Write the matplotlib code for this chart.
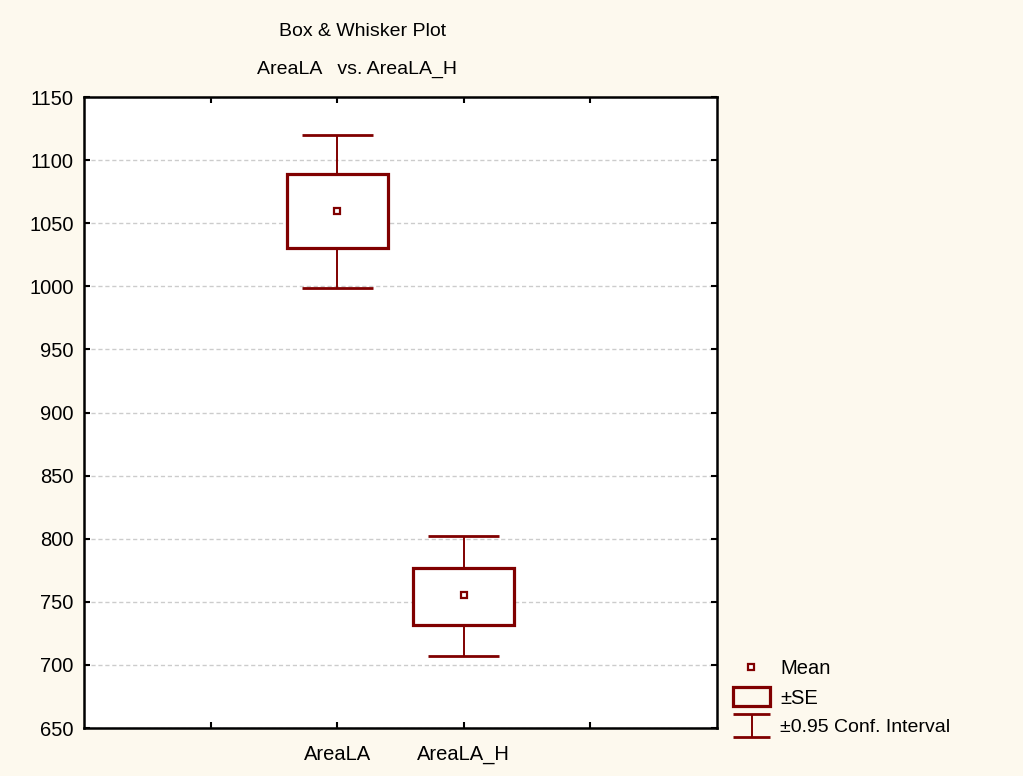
import numpy as np
from matplotlib import pyplot as plt

categories = ["AreaLA", "AreaLA_H"]
means = [1060, 755]
se_low = [1030, 732]
se_high = [1089, 777]
ci_low = [999, 707]
ci_high = [1120, 802]

xpos = [2, 3]
tick_pos = [1, 2, 3, 4]
tick_labels = ["", "AreaLA", "AreaLA_H", ""]

dark_red = "#800000"
bg = "#fdf9ee"
fs = 14.5

plt.rcParams['font.family'] = ['Liberation Sans', 'DejaVu Sans']

fig = plt.figure(figsize=(10.23, 7.76), dpi=100, facecolor=bg)
ax = fig.add_axes([84 / 1023, 48 / 776, 633 / 1023, 631 / 776])
ax.set_facecolor("white")

# grid
ax.set_axisbelow(True)
ax.yaxis.grid(True, color="#cccccc", linestyle=(0, (3, 2)), linewidth=1)

# +-SE boxes
se_h = [hi - lo for hi, lo in zip(se_high, se_low)]
ax.bar(xpos, se_h, bottom=se_low, width=0.8, facecolor="white",
       edgecolor=dark_red, linewidth=2.3, zorder=3)

# 0.95 CI whiskers + caps
ax.vlines(xpos, ci_low, se_low, color=dark_red, linewidth=1.4, zorder=2)
ax.vlines(xpos, se_high, ci_high, color=dark_red, linewidth=1.4, zorder=2)
cap = 0.28
for x, lo, hi in zip(xpos, ci_low, ci_high):
    ax.hlines([lo, hi], x - cap, x + cap, color=dark_red, linewidth=2, zorder=2)

# means
ax.plot(xpos, means, linestyle="none", marker="s", markersize=5,
        markerfacecolor="white", markeredgecolor=dark_red, markeredgewidth=1.6, zorder=4)

ax.set_xlim(0, 5)
ax.set_ylim(650, 1150)
ax.set_yticks(np.arange(650, 1151, 50))
ax.set_xticks(tick_pos)
ax.set_xticklabels(tick_labels)
ax.tick_params(direction="in", length=4, width=1.5, labelsize=fs,
               top=True, right=True)
ax.tick_params(axis="y", pad=7.5)
ax.tick_params(axis="x", pad=12)
for s in ax.spines.values():
    s.set_linewidth(1.8)

fig.text(363 / 1023, 1 - 32 / 776, "Box & Whisker Plot", ha="center", va="center", fontsize=fs - 0.5)
fig.text(357 / 1023, 1 - 69 / 776, "AreaLA   vs. AreaLA_H", ha="center", va="center", fontsize=fs - 0.5)

# legend, drawn in figure pixel coordinates via an overlay axes
lg = fig.add_axes([0, 0, 1, 1])
lg.set_xlim(0, 1023)
lg.set_ylim(776, 0)
lg.axis("off")
lg.patch.set_alpha(0)
lg.plot([751], [667], linestyle="none", marker="s", markersize=5,
        markerfacecolor="white", markeredgecolor=dark_red, markeredgewidth=1.6)
lg.add_patch(plt.Rectangle((733, 687), 37, 19, fill=False, edgecolor=dark_red, linewidth=2.3))
lg.vlines(752, 714, 737, color=dark_red, linewidth=1.4)
lg.hlines([714, 737], 733, 770, color=dark_red, linewidth=2)
lg.text(780, 668, "Mean", va="center", fontsize=fs)
lg.text(780, 698, "±SE", va="center", fontsize=fs)
lg.text(780, 727, "±0.95 Conf. Interval", va="center", fontsize=fs - 0.5)

fig.savefig("out.png", dpi=100, facecolor=bg)
